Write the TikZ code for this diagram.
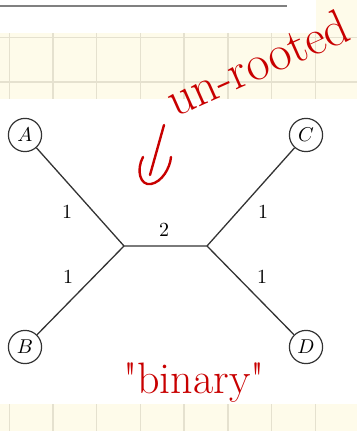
\documentclass[tikz,border=0pt]{standalone}
\definecolor{paper}{RGB}{254,251,234}
\definecolor{gridline}{RGB}{229,225,207}
\definecolor{ink}{RGB}{200,0,0}
\tikzset{
  leaf/.style={draw=black!80, circle, line width=0.6pt, minimum size=16.6pt, inner sep=0pt},
  branch/.style={draw=black!80, line width=0.65pt},
  gridrule/.style={draw=gridline, line width=0.7pt},
  scribble/.style={ink, line width=1.2pt, line cap=round, line join=round}
}
\begin{document}
\begin{tikzpicture}[x=0.5pt, y=-0.5pt]
  \useasboundingbox (0,0) rectangle (357,431);
  % notebook paper behind the tree
  \fill[paper] (0,33) rectangle (357,99);
  \fill[paper] (316,0) rectangle (357,33);
  \fill[paper] (0,404) rectangle (357,431);
  \foreach \x in {9.3,53,...,320} \draw[gridrule] (\x,33) -- (\x,99) (\x,404) -- (\x,431);
  \draw[gridrule] (0,37.5) -- (357,37.5) (0,82) -- (357,82);
  \draw[gray, line width=1pt] (0,6) -- (287,6);

  % the tree
  \node[leaf] (A) at (25,135) {$A$};
  \node[leaf] (B) at (25,347) {$B$};
  \node[leaf] (C) at (306,135) {$C$};
  \node[leaf] (D) at (306,347) {$D$};
  \coordinate (u) at (124,246);
  \coordinate (v) at (207,246);
  \draw[branch] (A) -- (u) -- (v) -- (C);
  \draw[branch] (B) -- (u) (v) -- (D);
  \node (wA) at (67,212) {1};
  \node (wB) at (68,277) {1};
  \node (wC) at (263,212) {1};
  \node (wD) at (262,277) {1};
  \node (wuv) at (164,230) {2};

  % notes in red
  \node[ink, rotate=24, anchor=base west, inner sep=0pt, font=\fontsize{25}{30}\selectfont] (unrooted) at (175,118) {un-rooted};
  \draw[scribble] (164,125) -- (150,175);
  \draw[scribble] (143,157) .. controls (136,170) and (140,186) .. (151,184) .. controls (162,182) and (170,168) .. (171,157);
  \node[ink, anchor=base, inner sep=0pt, font=\fontsize{22}{26}\selectfont] (binary) at (194,393) {\textquotedbl binary\textquotedbl};
\end{tikzpicture}
\end{document}
